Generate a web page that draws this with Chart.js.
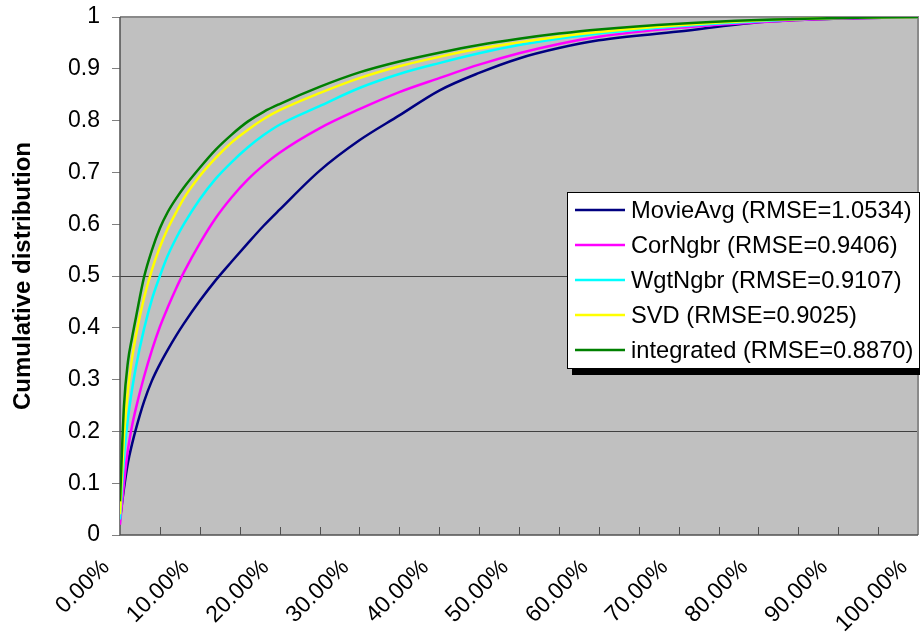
<!DOCTYPE html>
<html>
<head>
<meta charset="utf-8">
<script src="https://cdn.jsdelivr.net/npm/chart.js@4"></script>
<style>
  html, body { margin: 0; padding: 0; background: #fff; }
  #wrap { width: 920px; height: 639px; position: relative; }
</style>
</head>
<body>
<div id="wrap"><canvas id="grafico"></canvas></div>
<script>
// percentuais do eixo x (fração dos filmes)
const percentuais = [0, 0.5, 1, 1.5, 2, 3, 4, 5, 6, 7, 8, 10, 12, 14, 16, 18, 20, 25, 30, 35, 40, 45, 50, 55, 60, 70, 80, 90, 100];

const nomesSeries = [
    'MovieAvg (RMSE=1.0534)',
    'CorNgbr (RMSE=0.9406)',
    'WgtNgbr (RMSE=0.9107)',
    'SVD (RMSE=0.9025)',
    'integrated (RMSE=0.8870)'
];

const movieAvg   = [0.03, 0.09, 0.14, 0.175, 0.205, 0.257, 0.298, 0.33, 0.358, 0.384, 0.408, 0.452, 0.492, 0.528, 0.563, 0.597, 0.628, 0.703, 0.762, 0.81, 0.858, 0.892, 0.92, 0.94, 0.955, 0.972, 0.99, 0.997, 1.0];
const corNgbr    = [0.02, 0.10, 0.165, 0.21, 0.245, 0.305, 0.357, 0.402, 0.44, 0.475, 0.507, 0.563, 0.612, 0.652, 0.686, 0.714, 0.738, 0.785, 0.822, 0.855, 0.882, 0.908, 0.93, 0.948, 0.962, 0.979, 0.99, 0.997, 1.0];
const wgtNgbr    = [0.03, 0.15, 0.225, 0.28, 0.325, 0.397, 0.455, 0.50, 0.54, 0.572, 0.60, 0.648, 0.688, 0.72, 0.748, 0.772, 0.792, 0.828, 0.863, 0.89, 0.911, 0.93, 0.946, 0.958, 0.968, 0.982, 0.992, 0.998, 1.0];
const svd        = [0.04, 0.19, 0.28, 0.34, 0.385, 0.457, 0.512, 0.556, 0.592, 0.622, 0.65, 0.693, 0.728, 0.758, 0.782, 0.803, 0.82, 0.853, 0.882, 0.905, 0.923, 0.939, 0.951, 0.962, 0.971, 0.984, 0.993, 0.998, 1.0];
const integrated = [0.065, 0.25, 0.335, 0.38, 0.42, 0.497, 0.55, 0.592, 0.624, 0.649, 0.671, 0.709, 0.744, 0.773, 0.798, 0.817, 0.832, 0.865, 0.893, 0.914, 0.931, 0.946, 0.958, 0.968, 0.976, 0.987, 0.994, 0.998, 1.0];

const cores = ['#000080', '#ff00ff', '#00ffff', '#ffff00', '#008000'];
const series = [movieAvg, corNgbr, wgtNgbr, svd, integrated];

const fonte = "Arial, 'Liberation Sans', sans-serif";

// fundo cinza, bordas, ticks internos do eixo x e legenda com sombra
const pluginExcel = {
    id: 'estiloExcel',
    beforeDatasetsDraw(chart) {
        const { ctx, chartArea: a } = chart;
        ctx.save();
        ctx.fillStyle = '#c0c0c0';
        ctx.fillRect(a.left, a.top, a.right - a.left, a.bottom - a.top);
        // linhas de grade só em 0.2 e 0.5
        const y = chart.scales.y;
        ctx.strokeStyle = '#404040';
        ctx.lineWidth = 1;
        [0.2, 0.5].forEach(v => {
            const py = Math.round(y.getPixelForValue(v)) + 0.5;
            ctx.beginPath();
            ctx.moveTo(a.left, py);
            ctx.lineTo(a.right, py);
            ctx.stroke();
        });
        ctx.strokeStyle = '#8a8a8a';
        ctx.lineWidth = 2;
        ctx.beginPath();
        ctx.moveTo(a.left, a.top);
        ctx.lineTo(a.right, a.top);
        ctx.lineTo(a.right, a.bottom);
        ctx.stroke();
        ctx.strokeStyle = '#505050';
        ctx.lineWidth = 1.5;
        ctx.beginPath();
        ctx.moveTo(a.left, a.top);
        ctx.lineTo(a.left, a.bottom);
        ctx.lineTo(a.right, a.bottom);
        ctx.stroke();
        // ticks do eixo x apontando para dentro
        const x = chart.scales.x;
        ctx.lineWidth = 1;
        for (let v = 5; v < 100; v += 5) {
            const px = Math.round(x.getPixelForValue(v)) + 0.5;
            ctx.beginPath();
            ctx.moveTo(px, a.bottom);
            ctx.lineTo(px, a.bottom - 8);
            ctx.stroke();
        }
        ctx.restore();
    },
    afterDraw(chart) {
        const { ctx } = chart;
        const bx = 567, by = 192, bw = 352, bh = 176;
        ctx.save();
        ctx.fillStyle = '#000';
        ctx.fillRect(bx + 5, by + 5, bw, bh + 2);
        ctx.fillStyle = '#fff';
        ctx.fillRect(bx, by, bw, bh);
        ctx.strokeStyle = '#000';
        ctx.lineWidth = 1;
        ctx.strokeRect(bx + 0.5, by + 0.5, bw, bh);
        ctx.font = '23.7px ' + fonte;
        ctx.textBaseline = 'middle';
        chart.data.datasets.forEach((ds, i) => {
            const ly = by + 18 + i * 35;
            ctx.strokeStyle = ds.borderColor;
            ctx.lineWidth = 2.5;
            ctx.beginPath();
            ctx.moveTo(575, ly);
            ctx.lineTo(625, ly);
            ctx.stroke();
            ctx.fillStyle = '#000';
            ctx.fillText(ds.label, 631, ly + 1);
        });
        ctx.restore();
    }
};

const ctx = document.getElementById('grafico').getContext('2d');
const grafico = new Chart(ctx, {
    type: 'line',
    data: {
        datasets: series.map((s, i) => ({
            label: nomesSeries[i],
            data: s.map((v, j) => ({ x: percentuais[j], y: v })),
            borderColor: cores[i],
            borderWidth: 2.5,
            pointRadius: 0,
            fill: false,
            cubicInterpolationMode: 'monotone',
            order: series.length - i
        }))
    },
    options: {
        responsive: true,
        maintainAspectRatio: false,
        animation: false,
        layout: { padding: { left: 0, top: 17, right: 2, bottom: 0 } },
        plugins: {
            legend: { display: false },
            tooltip: { enabled: false }
        },
        scales: {
            x: {
                type: 'linear',
                min: 0,
                max: 100,
                grid: { display: false },
                border: { display: false },
                ticks: {
                    stepSize: 10,
                    autoSkip: false,
                    maxRotation: 45,
                    minRotation: 45,
                    color: '#000',
                    padding: 11,
                    labelOffset: -14,
                    font: { family: fonte, size: 23 },
                    callback: v => v.toFixed(2) + '%'
                },
                afterFit: s => { s.height = 104; s.paddingLeft = 0; s.paddingRight = 0; }
            },
            y: {
                min: 0,
                max: 1,
                grid: {
                    color: 'rgba(0,0,0,0)',
                    tickColor: '#808080',
                    tickLength: 8
                },
                border: { display: false },
                ticks: {
                    stepSize: 0.1,
                    color: '#000',
                    padding: 12,
                    font: { family: fonte, size: 23 },
                    callback: v => String(Math.round(v * 10) / 10)
                },
                title: {
                    display: true,
                    text: 'Cumulative distribution',
                    color: '#000',
                    font: { family: fonte, size: 24, weight: 'bold' },
                    padding: { top: 9, bottom: 0 }
                },
                afterFit: s => { s.width = 120; s.paddingTop = 0; s.paddingBottom = 0; }
            }
        }
    },
    plugins: [pluginExcel]
});
</script>
</body>
</html>
